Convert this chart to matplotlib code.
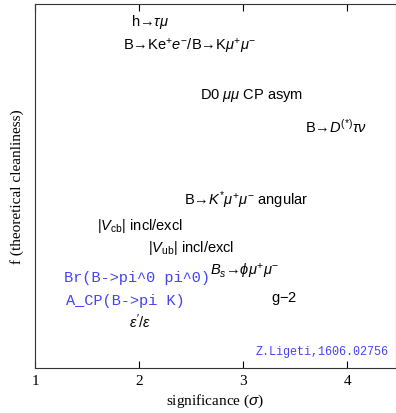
import matplotlib
matplotlib.use("Agg")
import matplotlib.pyplot as plt

# label text, significance (x), cleanliness (y)
labels = [
    r"h→$\tau\mu$",
    r"B→Ke$^{+}e^{-}$/B→K$\mu^{+}\mu^{-}$",
    r"D0 $\mu\mu$ CP asym",
    r"B→$D^{(*)}\tau\nu$",
    r"B→$K^{*}\mu^{+}\mu^{-}$ angular",
    r"$|V_{\rm cb}|$ incl/excl",
    r"$|V_{\rm ub}|$ incl/excl",
    r"$B_s$→$\phi\mu^{+}\mu^{-}$",
    r"g$-$2",
    r"$\epsilon'/\epsilon$",
]
sig = [1.92, 1.85, 2.59, 3.60, 2.43, 1.60, 2.09, 2.68, 3.27, 1.90]
clean = [0.952, 0.886, 0.752, 0.665, 0.464, 0.393, 0.332, 0.267, 0.195, 0.129]

blue_labels = ["Br(B->pi^0 pi^0)", "A_CP(B->pi K)"]
blue_sig = [1.28, 1.30]
blue_clean = [0.250, 0.187]

credit = "Z.Ligeti,1606.02756"

plt.rcParams["mathtext.fontset"] = "custom"
plt.rcParams["mathtext.rm"] = "Liberation Sans"
plt.rcParams["mathtext.it"] = "Liberation Sans:italic"
plt.rcParams["mathtext.bf"] = "Liberation Sans:bold"

fig = plt.figure(figsize=(3.96, 4.14), dpi=100)
ax = fig.add_axes([35 / 396, 45 / 414, 361 / 396, 364 / 414])

for t, x, y in zip(labels, sig, clean):
    ax.text(x, y, t, fontsize=10.5, family=["Liberation Sans", "DejaVu Sans"],
            ha="left", va="center")

for t, x, y in zip(blue_labels, blue_sig, blue_clean):
    ax.text(x, y, t, fontsize=11, family="Liberation Mono",
            color="#4444ee", ha="left", va="center")

ax.text(0.98, 0.048, credit, transform=ax.transAxes, fontsize=8.5,
        family="Liberation Mono", color="#4444ee", ha="right", va="center")

ax.set_xlim(1, 4.47)
ax.set_ylim(0, 1)
ax.set_xticks([1, 2, 3, 4])
ax.set_yticks([])
ax.tick_params(axis="x", direction="in", top=True, length=5,
               labelsize=11, pad=4)
for lab in ax.get_xticklabels():
    lab.set_family("Liberation Serif")
for s in ax.spines.values():
    s.set_color("#333333")

ax.set_xlabel(r"significance ($\sigma$)", family="Liberation Serif",
              fontsize=11)
ax.set_ylabel("f (theoretical cleanliness)", family="Liberation Serif",
              fontsize=11, labelpad=8)

fig.savefig("out.png", dpi=100)
